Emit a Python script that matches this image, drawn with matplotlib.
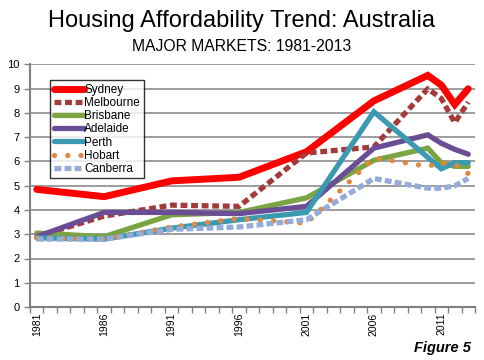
import numpy as np
import matplotlib
matplotlib.use("Agg")
import matplotlib.pyplot as plt

plt.rcParams["font.family"] = ["Liberation Sans", "DejaVu Sans"]

# data years (NaN = no point for that series)
years = [1981, 1986, 1991, 1996, 2001, 2006, 2010, 2011, 2012, 2013]
nan = np.nan

sydney    = [4.85, 4.55, 5.2, 5.35, 6.4, 8.5, 9.55, 9.15, 8.35, 9.0]
melbourne = [2.9, 3.75, 4.2, 4.15, 6.35, 6.6, 9.0, 8.6, 7.6, 8.45]
brisbane  = [3.05, 2.9, 3.8, 3.9, 4.5, 6.05, 6.55, 5.95, 5.8, 5.8]
adelaide  = [2.9, 3.9, 3.9, 3.85, 4.15, 6.55, 7.1, 6.75, 6.5, 6.3]
perth     = [2.85, 2.8, 3.25, 3.6, 3.9, 8.05, nan, 5.7, 5.95, 5.95]
hobart    = [2.85, 2.8, 3.3, 3.65, 3.45, 6.15, 5.8, 5.95, 5.9, 5.5]
canberra  = [2.8, 2.8, 3.2, 3.3, 3.6, 5.3, 4.9, 4.9, 5.0, 5.3]

tick_years = [1981, 1986, 1991, 1996, 2001, 2006, 2011]

series = [
    ("Sydney",    sydney,    "#FF0000", "-",               5.0, "round"),
    ("Melbourne", melbourne, "#A33B3B", (0, (1.3, 0.7)),   3.8, "butt"),
    ("Brisbane",  brisbane,  "#7BA443", "-",               3.8, "round"),
    ("Adelaide",  adelaide,  "#6B4D96", "-",               3.8, "round"),
    ("Perth",     perth,     "#3B9AB2", "-",               3.8, "round"),
    ("Hobart",    hobart,    "#E0893D", (0, (0.01, 2.5)),  3.8, "round"),
    ("Canberra",  canberra,  "#93ACDA", (0, (1.3, 0.6)),   3.8, "butt"),
]

fig = plt.figure(figsize=(4.84, 3.6), dpi=100)
ax = fig.add_axes([30 / 484, 53 / 360, 445 / 484, 242.5 / 360])

x = np.array(years, dtype=float)
for name, vals, color, ls, lw, cap in series:
    v = np.array(vals, dtype=float)
    m = ~np.isnan(v)
    ax.plot(x[m], v[m], color=color, linestyle=ls, linewidth=lw,
            solid_capstyle=cap, dash_capstyle=cap, solid_joinstyle="miter",
            label=name, zorder=3)

ax.set_xlim(1980.5, 2013.5)
ax.set_ylim(0, 10)
ax.set_yticks(range(0, 11))
ax.set_xticks(tick_years)
ax.set_xticklabels([str(y) for y in tick_years], rotation=90)
ax.set_xticks(np.arange(1980.5, 2014, 1.0), minor=True)
ax.tick_params(axis="x", which="major", length=0, labelsize=7.5, pad=4)
ax.tick_params(axis="x", which="minor", length=4, width=1, color="#808080", direction="out")
ax.tick_params(axis="y", length=4, width=1, color="#808080", labelsize=8)
ax.grid(axis="y", color="#8C8C8C", linewidth=1.2, zorder=0)
for s in ["top", "right"]:
    ax.spines[s].set_visible(False)
for s in ["left", "bottom"]:
    ax.spines[s].set_color("#808080")
    ax.spines[s].set_linewidth(1.5)

leg = ax.legend(loc="upper left", bbox_to_anchor=(20 / 445, 0.935), fontsize=8.5,
                frameon=True, fancybox=False, borderpad=0.3, labelspacing=0.1,
                handlelength=2.6, handletextpad=0.0, borderaxespad=0)
leg.get_frame().set_edgecolor("black")
leg.get_frame().set_linewidth(1.0)

fig.text(0.5, 0.942, "Housing Affordability Trend: Australia", ha="center", va="center", fontsize=17)
fig.text(0.5, 0.872, "MAJOR MARKETS: 1981-2013", ha="center", va="center", fontsize=11.3)
fig.text(0.972, 0.032, "Figure 5", ha="right", va="center", fontsize=10.5,
         fontweight="bold", fontstyle="italic")

fig.savefig("out.png", dpi=100)
